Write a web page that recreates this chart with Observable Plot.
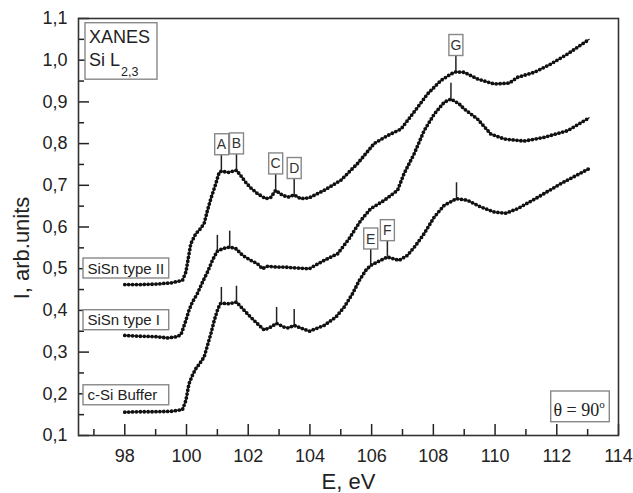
<!DOCTYPE html>
<html><head><meta charset="utf-8">
<script src="https://cdn.jsdelivr.net/npm/d3@7"></script>
<script src="https://cdn.jsdelivr.net/npm/@observablehq/plot@0.6"></script>
<style>body{margin:0;background:#fff} svg{display:block}</style>
</head><body><div id="chart"></div>
<script>
// ---- Data ----
const seriesNames = ["SiSn type II", "SiSn type I", "c-Si Buffer"];

const energyII = [98.0,98.5,99.0,99.5,99.87,99.98,100.14,100.30,100.41,100.57,100.68,100.79,100.95,101.06,101.13,101.35,101.62,101.76,101.92,102.08,102.30,102.57,102.73,102.89,103.11,103.30,103.49,103.70,103.98,104.46,105.0,105.54,106.08,106.51,106.95,107.16,107.49,107.81,108.24,108.57,108.73,109.0,109.43,109.97,110.46,110.73,111.27,111.81,112.35,113.05];
const intensityII = [0.462,0.462,0.463,0.466,0.472,0.492,0.560,0.584,0.592,0.608,0.640,0.668,0.704,0.731,0.734,0.731,0.736,0.723,0.707,0.694,0.680,0.668,0.671,0.688,0.676,0.672,0.677,0.668,0.670,0.688,0.712,0.752,0.800,0.819,0.835,0.855,0.887,0.919,0.951,0.967,0.972,0.971,0.955,0.943,0.945,0.959,0.971,0.991,1.015,1.050];

const energyI = [98.0,98.5,99.0,99.4,99.7,99.82,99.87,99.98,100.08,100.19,100.35,100.52,100.68,100.84,100.98,101.0,101.17,101.4,101.6,101.82,102.08,102.30,102.46,102.63,102.9,103.16,103.5,103.98,104.46,104.90,105.27,105.65,105.97,106.41,106.84,107.05,107.38,107.70,108.03,108.35,108.57,108.84,109.0,109.43,109.86,110.30,110.94,111.59,112.35,113.05];
const intensityI = [0.340,0.338,0.337,0.334,0.337,0.342,0.352,0.376,0.400,0.420,0.440,0.468,0.492,0.520,0.540,0.542,0.548,0.552,0.548,0.532,0.520,0.512,0.500,0.506,0.504,0.504,0.502,0.500,0.520,0.536,0.572,0.616,0.644,0.664,0.688,0.728,0.776,0.831,0.871,0.899,0.907,0.895,0.883,0.859,0.823,0.811,0.806,0.815,0.831,0.862];

const energyBuf = [98.0,98.5,99.0,99.5,99.87,99.98,100.08,100.19,100.30,100.46,100.57,100.68,100.79,100.90,101.0,101.09,101.13,101.38,101.62,101.87,102.08,102.30,102.52,102.73,102.92,103.16,103.30,103.49,103.98,104.46,104.84,105.11,105.38,105.60,105.81,105.97,106.24,106.51,106.89,107.16,107.43,107.70,108.03,108.35,108.75,109.11,109.54,109.97,110.35,110.73,111.38,112.13,113.05];
const intensityBuf = [0.156,0.157,0.157,0.158,0.162,0.184,0.224,0.244,0.260,0.276,0.288,0.316,0.344,0.376,0.400,0.416,0.417,0.416,0.420,0.400,0.384,0.368,0.353,0.360,0.369,0.360,0.358,0.364,0.350,0.364,0.384,0.408,0.440,0.472,0.496,0.508,0.518,0.528,0.520,0.532,0.556,0.584,0.624,0.652,0.668,0.664,0.648,0.636,0.633,0.644,0.671,0.704,0.740];

// Feature markers (energy, intensity on the curve, label)
const markEnergy    = [101.13,101.62,102.89,103.49,108.73, 101.0,101.4,108.57, 101.13,101.62,102.92,103.49,105.97,106.51,108.75];
const markIntensity = [0.734,0.736,0.688,0.677,0.972, 0.542,0.552,0.907, 0.417,0.420,0.369,0.364,0.508,0.528,0.668];
const markLabel     = ["A","B","C","D","G", "","","", "","","","","E","F",""];

// Series label levels (y of label boxes)
const seriesLabelLevel = [0.50, 0.376, 0.196];

const xMajor = [98,100,102,104,106,108,110,112,114];
const xMinor = [97,99,101,103,105,107,109,111,113];
const yMajor = [0.1,0.2,0.3,0.4,0.5,0.6,0.7,0.8,0.9,1.0,1.1];
const yMinor = [0.15,0.25,0.35,0.45,0.55,0.65,0.75,0.85,0.95,1.05];

// ---- Build tables ----
const rows = [];
[[seriesNames[0], energyII, intensityII],[seriesNames[1], energyI, intensityI],[seriesNames[2], energyBuf, intensityBuf]]
  .forEach(([s, E, I]) => E.forEach((e, i) => rows.push({series: s, E: e, I: I[i]})));
const marks = markEnergy.map((e, i) => ({E: e, I: markIntensity[i], label: markLabel[i]}));
const labels = seriesNames.map((s, i) => ({name: s, y: seriesLabelLevel[i]}));

const W = 633, H = 493, mL = 78, mR = 15, mT = 18, mB = 58;
const innerW = W - mL - mR, innerH = H - mT - mB;
const X0 = 96.5, X1 = 114, Y0 = 0.1, Y1 = 1.1;
const pxX = p => p / innerW * (X1 - X0), pxY = p => p / innerH * (Y1 - Y0);
const TICK = 11, MINOR = 6, LEAD = 0.038;
const fmtY = d => d.toFixed(1).replace(".", ",");

const plot = Plot.plot({
  width: W, height: H,
  marginLeft: mL, marginRight: mR, marginTop: mT, marginBottom: mB,
  style: {fontFamily: "'Liberation Sans', Arial, sans-serif", fontSize: "18px", color: "#222", background: "#fff"},
  x: {domain: [X0, X1]},
  y: {domain: [Y0, Y1]},
  marks: [
    Plot.axisX({ticks: xMajor, tickSize: 0, tickPadding: 14, tickFormat: d => String(d), fontSize: 18, label: null}),
    Plot.axisY({ticks: yMajor, tickSize: 0, tickPadding: 11, tickFormat: fmtY, fontSize: 18, label: null}),
    Plot.ruleX(xMajor, {x: d => d, y1: Y0, y2: Y0 + pxY(TICK), stroke: "#222", strokeWidth: 1.5}),
    Plot.ruleX(xMinor, {x: d => d, y1: Y0, y2: Y0 + pxY(MINOR), stroke: "#222", strokeWidth: 1.5}),
    Plot.ruleY(yMajor, {y: d => d, x1: X0, x2: X0 + pxX(TICK), stroke: "#222", strokeWidth: 1.5}),
    Plot.ruleY(yMinor, {y: d => d, x1: X0, x2: X0 + pxX(MINOR), stroke: "#222", strokeWidth: 1.5}),
    Plot.frame({stroke: "#333", strokeWidth: 1.6}),
    Plot.line(rows, {x: "E", y: "I", z: "series", stroke: "#111", strokeWidth: 1.2}),
    Plot.line(rows, {x: "E", y: "I", z: "series", stroke: "#111", strokeWidth: 3.8, strokeDasharray: "0 3.9", strokeLinecap: "round"}),
    Plot.ruleX(marks, {x: "E", y1: "I", y2: d => d.I + LEAD, stroke: "#222", strokeWidth: 1.5}),
    Plot.text(marks.filter(d => d.label), {x: "E", y: d => d.I + LEAD, text: "label", dy: -10.5, lineAnchor: "middle", fontSize: 14, fill: "#333"}),
    Plot.text(labels, {frameAnchor: "left", y: "y", text: "name", dx: 9, textAnchor: "start", lineAnchor: "middle", fontSize: 15, fill: "#222"}),
    Plot.text(["E, eV"], {frameAnchor: "bottom", dy: 46, lineAnchor: "middle", fontSize: 22, fill: "#222"})
  ]
});
document.getElementById("chart").appendChild(plot);

// ---- Boxes around annotation texts ----
const svg = d3.select(plot);
function addBox(textNode, x, y, w, h) {
  const r = document.createElementNS("http://www.w3.org/2000/svg", "rect");
  r.setAttribute("x", x); r.setAttribute("y", y);
  r.setAttribute("width", w); r.setAttribute("height", h);
  r.setAttribute("fill", "#fff"); r.setAttribute("stroke", "#888"); r.setAttribute("stroke-width", "1.4");
  const t = textNode.getAttribute("transform"); if (t) r.setAttribute("transform", t);
  textNode.parentNode.insertBefore(r, textNode);
}
const letterSet = new Set(markLabel.filter(d => d));
const nameSet = new Set(seriesNames);
const allText = Array.from(plot.querySelectorAll("text"));
allText.filter(n => letterSet.has(n.textContent)).forEach(n => {
  const b = n.getBBox();
  const cx = b.x + b.width / 2, cy = b.y + b.height / 2;
  addBox(n, cx - 7, cy - 10.5, 14, 21);
});
const lab = allText.filter(n => nameSet.has(n.textContent));
const maxW = d3.max(lab, n => n.getBBox().width);
lab.forEach(n => { const b = n.getBBox(); addBox(n, b.x - 4.5, b.y - 1.5, maxW + 9, b.height + 3); });

// ---- Y title ----
svg.append("text").attr("transform", "translate(29,248) rotate(-90)")
  .attr("text-anchor", "middle").attr("font-size", 22).attr("fill", "#222")
  .attr("font-family", "'Liberation Sans', Arial, sans-serif").text("I, arb.units");

// ---- Corner annotations ----
const ann = svg.append("g").attr("font-family", "'Liberation Sans', Arial, sans-serif").attr("fill", "#222").attr("text-anchor", "start");
ann.append("rect").attr("x", mL + 7).attr("y", mT + 4.7).attr("width", 72).attr("height", 56.5)
  .attr("fill", "#fff").attr("stroke", "#888").attr("stroke-width", 1.4);
ann.append("text").attr("x", mL + 11).attr("y", mT + 24.5).attr("font-size", 18).text("XANES");
const si = ann.append("text").attr("x", mL + 11).attr("y", mT + 47.5).attr("font-size", 18).text("Si L");
si.append("tspan").attr("dx", 1).attr("dy", 10).attr("font-size", 12.5).text("2,3");

const th = svg.append("g").attr("font-family", "'Liberation Serif', 'Times New Roman', serif").attr("fill", "#222").attr("text-anchor", "start");
th.append("rect").attr("x", W - mR - 67.3).attr("y", H - mB - 44).attr("width", 58.6).attr("height", 30.7)
  .attr("fill", "#fff").attr("stroke", "#888").attr("stroke-width", 1.4);
const tt = th.append("text").attr("x", W - mR - 64.5).attr("y", H - mB - 19).attr("font-size", 18).text("θ = 90");
tt.append("tspan").attr("dy", -8).attr("font-size", 11).text("o");
</script>
</body></html>
